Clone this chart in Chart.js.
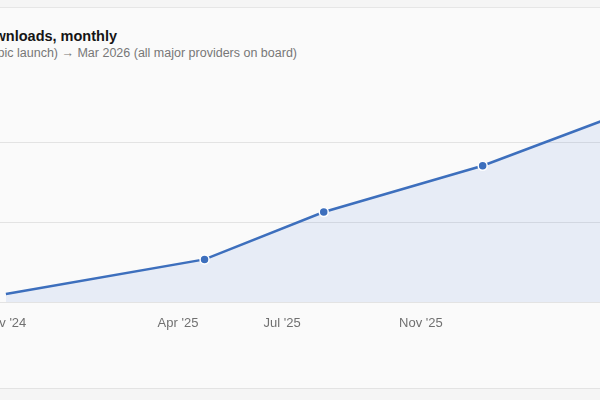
<!DOCTYPE html>
<html>
<head>
<meta charset="utf-8">
<script src="https://cdn.jsdelivr.net/npm/chart.js@4/dist/chart.umd.min.js"></script>
<style>
  html, body { margin: 0; padding: 0; }
  body { width: 600px; height: 400px; overflow: hidden; background: #f5f5f5; position: relative; font-family: "Liberation Sans", Arial, sans-serif; }
  #card { position: absolute; left: 0; top: 7px; width: 600px; height: 380px; background: #fafafa; border-top: 1px solid #e6e6e6; border-bottom: 1px solid #e3e3e3; }
  .head { position: absolute; white-space: nowrap; text-align: right; }
  #title { right: 483px; top: 28px; font-size: 14.5px; font-weight: 700; color: #151515; }
  #subtitle { right: 303px; top: 46px; font-size: 12.5px; color: #777777; }
  #wrap { position: absolute; left: -100px; top: 59px; width: 800px; height: 283px; }
</style>
</head>
<body>
<div id="card"></div>
<div class="head" id="title">MCP SDK downloads, monthly</div>
<div class="head" id="subtitle">Nov 2024 (Anthropic launch) → Mar 2026 (all major providers on board)</div>
<div id="wrap"><canvas id="chart" width="800" height="283"></canvas></div>
<script>
// months since Nov 2024
const pointMonths = [0, 5, 8, 12, 16];
const downloads = [2.0, 10.7, 22.6, 34.2, 49.2];   // millions
const tickMonths = [0, 5, 8, 12];
const tickLabels = ["Nov '24", "Apr '25", "Jul '25", "Nov '25"];

const lineColor = "#3d6fbd";

const ctx = document.getElementById("chart").getContext("2d");
new Chart(ctx, {
  type: "line",
  data: {
    datasets: [{
      data: pointMonths.map((m, i) => ({ x: m, y: downloads[i] })),
      borderColor: lineColor,
      borderWidth: 2.5,
      backgroundColor: "rgba(70,120,220,0.1)",
      fill: "origin",
      tension: 0,
      pointRadius: (c) => (c.dataIndex === 0 ? 0 : 4.5),
      pointBackgroundColor: lineColor,
      pointBorderColor: "#ffffff",
      pointBorderWidth: 1.5,
      xAxisID: "x",
      yAxisID: "y",
    }],
  },
  options: {
    responsive: false,
    animation: false,
    layout: { padding: { left: 0, right: 20, top: 0, bottom: 0 } },
    plugins: { legend: { display: false }, tooltip: { enabled: false } },
    scales: {
      x: {
        type: "linear",
        display: false,
        min: -1.155,
        max: 16.967,
      },
      xl: {
        type: "linear",
        position: "bottom",
        min: -1.282,
        max: 19.467,
        grid: { display: false, drawTicks: false },
        border: { display: false },
        afterBuildTicks: (scale) => {
          scale.ticks = tickMonths.map((v) => ({ value: v }));
        },
        afterFit: (scale) => { scale.height = 40; },
        ticks: {
          autoSkip: false,
          maxRotation: 0,
          padding: 14,
          color: "#707070",
          font: { family: "Liberation Sans", size: 13 },
          callback: (v) => {
            const i = tickMonths.indexOf(v);
            return i >= 0 ? tickLabels[i] : "";
          },
        },
      },
      y: {
        min: 0,
        max: 59.5,
        afterFit: (scale) => { scale.width = 60; },
        border: { display: false },
        grid: {
          drawTicks: false,
          lineWidth: 1,
          color: "#e3e3e3",
        },
        ticks: {
          display: false,
          stepSize: 20,
          includeBounds: false,
        },
      },
    },
  },
});
</script>
</body>
</html>
